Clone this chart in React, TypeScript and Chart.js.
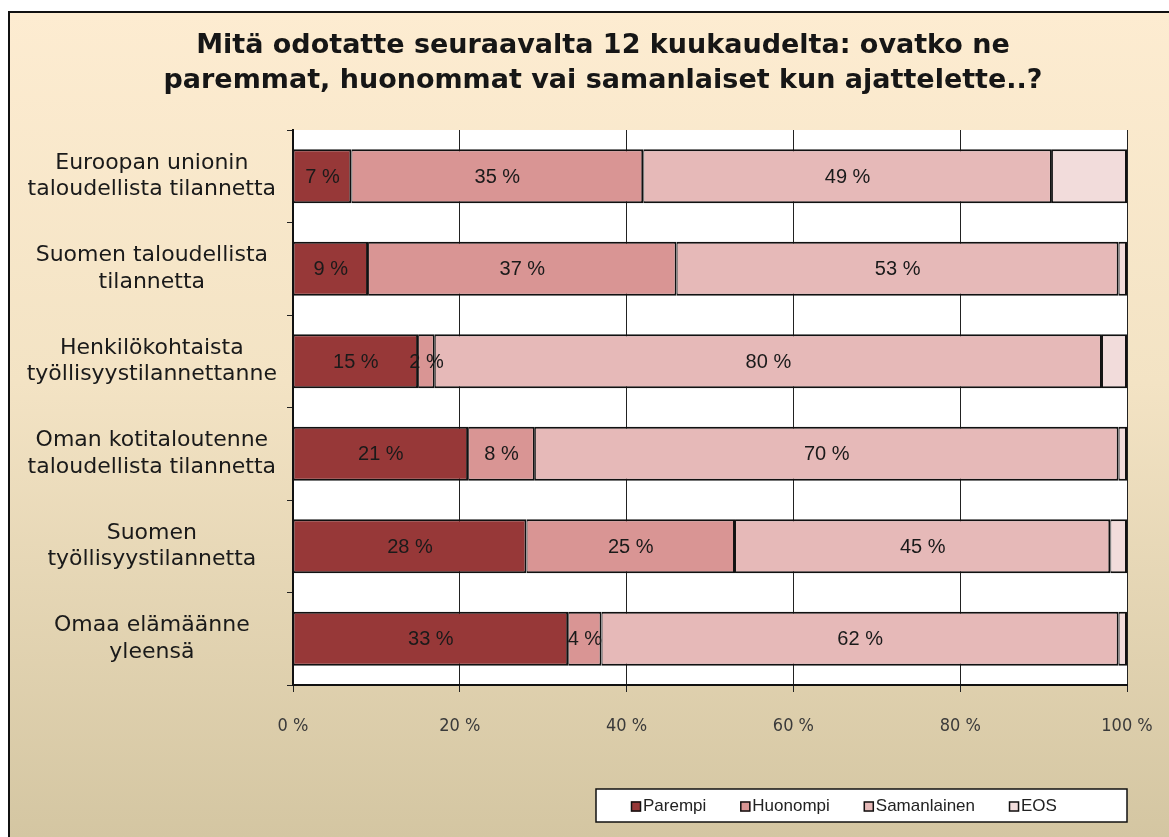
import React, { useEffect, useRef } from "react";
import { Chart, registerables } from "chart.js";

Chart.register(...registerables);

const titleLines = [
  "Mitä odotatte seuraavalta 12 kuukaudelta: ovatko ne",
  "paremmat, huonommat vai samanlaiset kun ajattelette..?",
];

const categories: string[][] = [
  ["Euroopan unionin", "taloudellista tilannetta"],
  ["Suomen taloudellista", "tilannetta"],
  ["Henkilökohtaista", "työllisyystilannettanne"],
  ["Oman kotitaloutenne", "taloudellista tilannetta"],
  ["Suomen", "työllisyystilannetta"],
  ["Omaa elämäänne", "yleensä"],
];

const seriesNames = ["Parempi", "Huonompi", "Samanlainen", "EOS"];
const parempi = [7, 9, 15, 21, 28, 33];
const huonompi = [35, 37, 2, 8, 25, 4];
const samanlainen = [49, 53, 80, 70, 45, 62];
const eos = [9, 1, 3, 1, 2, 1];
const seriesColors = ["#973838", "#D99594", "#E6B9B8", "#F2DCDB"];
const labelledSeries = [0, 1, 2];

const xTickValues = [0, 20, 40, 60, 80, 100];

const backgroundPlugin = {
  id: "slideBackground",
  beforeDraw(chart: any) {
    const { ctx, width, height, chartArea } = chart;
    ctx.save();
    ctx.fillStyle = "#ffffff";
    ctx.fillRect(0, 0, width, height);
    const g = ctx.createLinearGradient(0, 11, 0, height);
    g.addColorStop(0, "#FDECD1");
    g.addColorStop(0.45, "#F3E3C4");
    g.addColorStop(1, "#D4C6A2");
    ctx.fillStyle = g;
    ctx.fillRect(8, 11, width - 8, height - 11);
    ctx.strokeStyle = "#111";
    ctx.lineWidth = 2;
    ctx.beginPath();
    ctx.moveTo(9, height);
    ctx.lineTo(9, 12);
    ctx.lineTo(width, 12);
    ctx.stroke();
    // plot area
    ctx.fillStyle = "#ffffff";
    ctx.fillRect(chartArea.left, chartArea.top, chartArea.right - chartArea.left, chartArea.bottom - chartArea.top);
    ctx.strokeStyle = "#9a9a9a";
    ctx.lineWidth = 1;
    ctx.beginPath();
    ctx.moveTo(chartArea.right + 0.5, chartArea.top);
    ctx.lineTo(chartArea.right + 0.5, chartArea.bottom);
    ctx.stroke();
    // title
    ctx.fillStyle = "#161616";
    ctx.font = "bold 27px 'DejaVu Sans', sans-serif";
    ctx.textAlign = "center";
    ctx.textBaseline = "middle";
    titleLines.forEach((line, i) => {
      ctx.fillText(line, 603, 46 + i * 35);
    });
    ctx.restore();
  },
};

const valueLabelPlugin = {
  id: "valueLabels",
  afterDatasetsDraw(chart: any) {
    const { ctx } = chart;
    ctx.save();
    ctx.font = "20px 'Liberation Sans', Arial, sans-serif";
    ctx.fillStyle = "#1a1a1a";
    ctx.textAlign = "center";
    ctx.textBaseline = "middle";
    labelledSeries.forEach((di) => {
      const meta = chart.getDatasetMeta(di);
      const data = chart.data.datasets[di].data as number[];
      meta.data.forEach((el: any, i: number) => {
        const c = el.getCenterPoint();
        ctx.fillText(`${data[i]} %`, c.x, c.y + 1);
      });
    });
    ctx.restore();
  },
};

const legendBoxPlugin = {
  id: "legendBox",
  afterDraw(chart: any) {
    const { ctx, chartArea } = chart;
    const boxLeft = 596;
    const boxRight = chartArea.right;
    const boxTop = chartArea.bottom + 104;
    const boxH = 33;
    ctx.save();
    ctx.fillStyle = "#ffffff";
    ctx.fillRect(boxLeft, boxTop, boxRight - boxLeft, boxH);
    ctx.strokeStyle = "#111";
    ctx.lineWidth = 1.5;
    ctx.strokeRect(boxLeft, boxTop, boxRight - boxLeft, boxH);
    ctx.font = "17px 'Liberation Sans', Arial, sans-serif";
    ctx.textBaseline = "middle";
    ctx.textAlign = "left";
    let x = 631;
    const cy = boxTop + boxH / 2 + 1;
    chart.data.datasets.forEach((ds: any) => {
      ctx.fillStyle = ds.backgroundColor;
      ctx.fillRect(x, cy - 5, 10, 10);
      ctx.strokeStyle = "#111";
      ctx.lineWidth = 1.5;
      ctx.strokeRect(x + 0.5, cy - 4.5, 9, 9);
      ctx.fillStyle = "#222";
      ctx.fillText(ds.label, x + 12, cy);
      x += 12 + ctx.measureText(ds.label).width + 34;
    });
    ctx.restore();
  },
};

export default function App() {
  const ref = useRef<HTMLCanvasElement>(null);
  useEffect(() => {
    document.body.style.margin = "0";
    const values = [parempi, huonompi, samanlainen, eos];
    const chart = new Chart(ref.current as HTMLCanvasElement, {
      type: "bar",
      data: {
        labels: categories,
        datasets: values.map((v, i) => ({
          label: seriesNames[i],
          data: v,
          backgroundColor: seriesColors[i],
          borderColor: "#111111",
          borderWidth: { top: 2, bottom: 2, left: 1, right: 2 },
          borderSkipped: false,
          barPercentage: 0.585,
          categoryPercentage: 1,
        })),
      },
      options: {
        indexAxis: "y",
        animation: false,
        responsive: false,
        devicePixelRatio: 1,
        layout: { padding: { left: 8, right: 42, top: 130, bottom: 92 } },
        plugins: {
          legend: { display: false },
          tooltip: { enabled: false },
          title: { display: false },
        },
        scales: {
          x: {
            stacked: true,
            min: 0,
            max: 100,
            afterBuildTicks: (axis: any) => {
              axis.ticks = xTickValues.map((v) => ({ value: v }));
            },
            afterFit: (axis: any) => {
              axis.height = 60;
              axis.paddingLeft = 0;
              axis.paddingRight = 0;
            },
            ticks: {
              callback: (v: any) => `${v} %`,
              color: "#3a3a3a",
              padding: 24,
              font: { family: "'Liberation Sans Narrow', 'Arial Narrow', 'DejaVu Sans Condensed', sans-serif", size: 18 },
            },
            grid: { color: "#222222", lineWidth: 1, drawTicks: true, tickLength: 7 },
            border: { display: true, color: "#111111", width: 2 },
          },
          y: {
            stacked: true,
            afterFit: (axis: any) => {
              axis.width = 285;
              axis.paddingTop = 0;
              axis.paddingBottom = 0;
            },
            ticks: {
              crossAlign: "center",
              padding: 10,
              color: "#1a1a1a",
              font: { family: "'DejaVu Sans', sans-serif", size: 22, lineHeight: 1.22 },
            },
            grid: { drawOnChartArea: false, drawTicks: true, tickLength: 6, color: "#222222", offset: true },
            border: { display: true, color: "#111111", width: 2 },
          },
        },
      },
      plugins: [backgroundPlugin, valueLabelPlugin, legendBoxPlugin],
    } as any);
    return () => chart.destroy();
  }, []);
  return (
    <div style={{ width: 1169, height: 837 }}>
      <canvas ref={ref} width={1169} height={837} style={{ display: "block" }} />
    </div>
  );
}
